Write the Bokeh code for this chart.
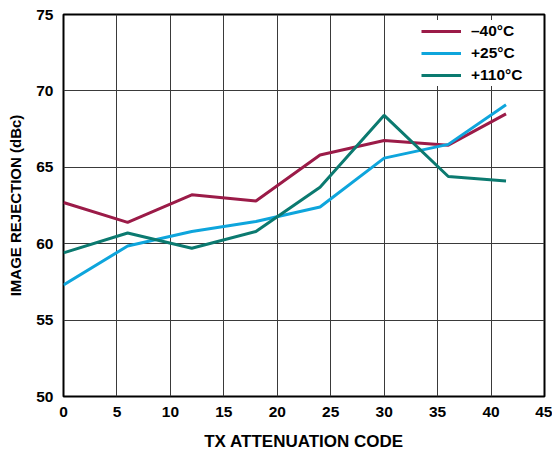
from bokeh.plotting import figure
from bokeh.models import Range1d, FixedTicker, Legend, LegendItem
from bokeh.embed import file_html
from bokeh.resources import INLINE

# Data
codes = [0, 6, 12, 18, 24, 30, 36, 41.4]
rej_m40 = [62.7, 61.4, 63.2, 62.8, 65.8, 66.75, 66.45, 68.5]
rej_p25 = [57.3, 59.85, 60.8, 61.45, 62.4, 65.6, 66.5, 69.1]
rej_p110 = [59.4, 60.7, 59.7, 60.8, 63.7, 68.4, 64.4, 64.1]
series_labels = ["\u201340\u00b0C", "+25\u00b0C", "+110\u00b0C"]
x_ticks = [0, 5, 10, 15, 20, 25, 30, 35, 40, 45]
y_ticks = [50, 55, 60, 65, 70, 75]

colors = ["#9b1b48", "#0ea5dc", "#0b7a70"]
FONT = "Liberation Sans"

p = figure(width=552, height=453, output_backend="svg", toolbar_location=None,
           x_range=Range1d(0, 45), y_range=Range1d(50, 75),
           min_border_left=63, min_border_right=8, min_border_top=14,
           min_border_bottom=55)

p.outline_line_color = "black"
p.outline_line_width = 2
p.background_fill_color = "white"

for ax in (p.xaxis[0], p.yaxis[0]):
    ax.axis_line_color = None
    ax.major_tick_line_color = None
    ax.minor_tick_line_color = None
    ax.major_tick_out = 0
    ax.major_tick_in = 0
    ax.major_label_text_font = FONT
    ax.major_label_text_font_style = "bold"
    ax.major_label_text_font_size = "15.5px"
    ax.major_label_text_color = "black"
    ax.axis_label_text_font = FONT
    ax.axis_label_text_font_style = "bold"
    ax.axis_label_text_color = "black"

p.xaxis.axis_label_text_font_size = "17px"
p.yaxis.axis_label_text_font_size = "15px"
p.xaxis.ticker = FixedTicker(ticks=x_ticks)
p.yaxis.ticker = FixedTicker(ticks=y_ticks)
p.xaxis.axis_label = "TX ATTENUATION CODE"
p.yaxis.axis_label = "IMAGE REJECTION (dBc)"
p.xaxis.major_label_standoff = 10
p.xaxis.axis_label_standoff = 12
p.yaxis.major_label_standoff = 10
p.yaxis.axis_label_standoff = 9

p.xgrid.ticker = FixedTicker(ticks=x_ticks)
p.ygrid.ticker = FixedTicker(ticks=y_ticks)
for g in (p.xgrid[0], p.ygrid[0]):
    g.grid_line_color = "#3a3a3a"
    g.grid_line_width = 1
    g.grid_line_alpha = 1.0

r1 = p.line(codes, rej_m40, line_color=colors[0], line_width=3)
r2 = p.line(codes, rej_p25, line_color=colors[1], line_width=3)
r3 = p.line(codes, rej_p110, line_color=colors[2], line_width=3)

legend = Legend(items=[LegendItem(label=series_labels[0], renderers=[r1]),
                       LegendItem(label=series_labels[1], renderers=[r2]),
                       LegendItem(label=series_labels[2], renderers=[r3])],
                location=(358, 310))
legend.label_text_font = FONT
legend.label_text_font_style = "bold"
legend.label_text_font_size = "15.5px"
legend.label_text_color = "black"
legend.glyph_width = 40
legend.glyph_height = 22
legend.label_height = 22
legend.label_standoff = 10
legend.spacing = 0
legend.padding = 2
legend.margin = 0
legend.border_line_color = None
legend.background_fill_color = "white"
legend.background_fill_alpha = 1.0
p.add_layout(legend, "center")

open("out.html", "w").write(file_html(p, INLINE))
